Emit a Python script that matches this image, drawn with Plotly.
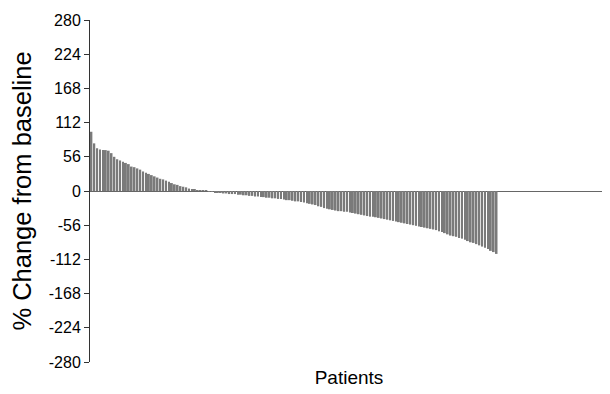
import plotly.graph_objects as go

positive = [97, 78, 70, 68, 67, 67, 66, 62, 56, 52, 50, 48, 46, 44, 40, 39, 37, 35,
            32, 30, 28, 26, 24, 22, 20, 19, 17, 15, 13, 11, 10, 8, 7, 6, 4, 3]
near_zero = [2, 1, 1, 0.5, 0.3, -0.5, -1]
negative = [-2, -3, -3, -4, -4, -5, -5, -5, -6, -6,
            -7, -7, -8, -8, -9, -9, -10, -10, -11, -11,
            -12, -12, -13, -13, -14, -15, -15, -16, -17, -17,
            -18, -19, -20, -21, -22, -23, -25, -26, -28, -29,
            -30, -31, -32, -33, -33, -34, -34, -35, -36, -37,
            -38, -39, -40, -41, -42, -42, -43, -44, -45, -46,
            -47, -48, -49, -50, -51, -52, -53, -54, -55, -56,
            -57, -58, -59, -60, -61, -62, -63, -64, -66, -67,
            -69, -71, -73, -74, -75, -77, -78, -80, -82, -84,
            -85, -87, -89, -91, -93, -95, -98, -100, -103]
values = positive + near_zero + negative
patients = list(range(len(values)))
y_ticks = [280, 224, 168, 112, 56, 0, -56, -112, -168, -224, -280]

n = len(values)
fig = go.Figure(go.Bar(x=patients, y=values, marker=dict(color="#7a7a7a", line=dict(width=0))))

fig.update_layout(
    width=610, height=394,
    margin=dict(l=82, r=10, t=12, b=40),
    paper_bgcolor="white", plot_bgcolor="white",
    bargap=0.35, showlegend=False,
    font=dict(family="Liberation Sans, Arial, sans-serif", color="black"),
)
fig.update_xaxes(
    range=[-0.5, -0.5 + n * 518 / 408], automargin=False,
    showticklabels=False, ticks="", showgrid=False, zeroline=False, showline=False,
    title=dict(text="Patients", font=dict(size=19), standoff=8),
)
fig.update_yaxes(
    range=[-280, 280], tickvals=y_ticks, ticktext=[str(v) for v in y_ticks],
    automargin=False,
    ticks="outside", ticklen=5, tickcolor="#333", tickfont=dict(size=16),
    showline=True, linecolor="#333", linewidth=1,
    showgrid=False, zeroline=True, zerolinecolor="#666", zerolinewidth=1,
    title=dict(text="% Change from baseline", font=dict(size=25.5), standoff=9),
)
fig.write_html("out.html")
